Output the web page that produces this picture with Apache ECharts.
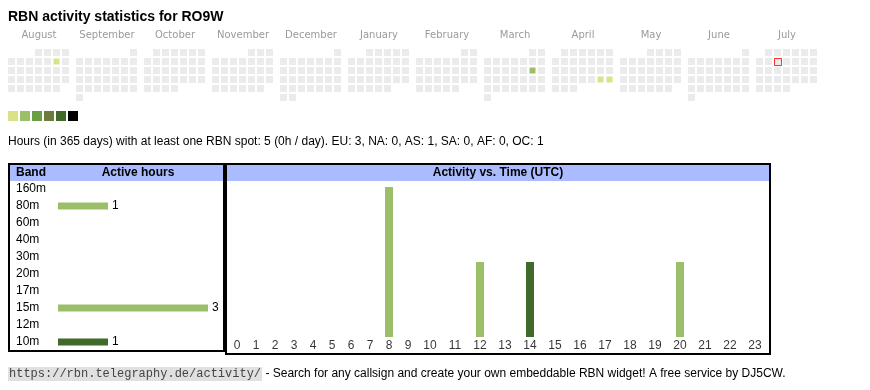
<!DOCTYPE html>
<html><head><meta charset="utf-8">
<script src="https://cdn.jsdelivr.net/npm/echarts@6/dist/echarts.min.js"></script>
<style>html,body{margin:0;padding:0;background:#fff}#c{width:870px;height:390px}</style>
</head><body><div id="c"></div>
<script>
// ---------- data ----------
const pageTitle = 'RBN activity statistics for RO9W';
const monthNames = ['August','September','October','November','December','January','February','March','April','May','June','July'];
const monthRanges = ['2024-08','2024-09','2024-10','2024-11','2024-12','2025-01','2025-02','2025-03','2025-04','2025-05','2025-06','2025-07'];
const activeDays = ['2024-08-10','2025-03-15','2025-04-26','2025-04-27'];
const activeDayHours = [1,2,1,1];
const todayDate = '2025-07-09';
const levelValues = [1,2,3,4,5,6];
const summaryText = 'Hours (in 365 days) with at least one RBN spot: 5 (0h / day). EU: 3, NA: 0, AS: 1, SA: 0, AF: 0, OC: 1';
const bands = ['160m','80m','60m','40m','30m','20m','17m','15m','12m','10m'];
const bandHours = [0,1,0,0,0,0,0,3,0,1];
const hourLabels = ['0','1','2','3','4','5','6','7','8','9','10','11','12','13','14','15','16','17','18','19','20','21','22','23'];
const hourCounts = [0,0,0,0,0,0,0,0,2,0,0,0,1,0,1,0,0,0,0,0,1,0,0,0];
const footerLink = 'https://rbn.telegraphy.de/activity/';
const footerText = ' - Search for any callsign and create your own embeddable RBN widget! A free service by DJ5CW.';

// ---------- styles ----------
const levelColors = ['#d9e288','#9bbf68','#6a9f45','#6a7b3c','#3f6a29','#000000'];
const lightBar = '#9bbf68', darkBar = '#3f6a29';
const darkBands = {'10m': true};
const darkHours = {'14': true};
const headerBg = '#aabbff';
const sans = '"Liberation Sans", Arial, sans-serif';

// hour column layout: table cells sized by label width
const hourCellW = hourLabels.map(l => 13 + 6 * l.length);
const hourCenter = [];
let acc = 0;
hourCellW.forEach(w => { hourCenter.push(acc + w / 2); acc += w; });
const hourTotal = acc;

const calendars = monthRanges.map((r, i) => ({
  orient: 'vertical', range: r, left: 7 + 68 * i, top: 48, cellSize: [9, 9],
  splitLine: {show: false}, dayLabel: {show: false, firstDay: 1}, monthLabel: {show: false}, yearLabel: {show: false},
  itemStyle: {color: '#ebebeb', borderColor: '#ffffff', borderWidth: 2}
}));

const heatSeries = monthRanges.map((r, i) => ({
  type: 'heatmap', coordinateSystem: 'calendar', calendarIndex: i,
  data: activeDays.map((d, k) => [d, activeDayHours[k]]).filter(p => p[0].startsWith(r)),
  itemStyle: {borderColor: '#ffffff', borderWidth: 1}
}));

const todayIdx = monthRanges.findIndex(r => todayDate.startsWith(r));

const monthTitles = monthNames.map((m, i) => ({
  text: m, left: 39 + 68 * i, top: 30, textAlign: 'center', padding: 0,
  textStyle: {fontFamily: 'DejaVu Sans', fontSize: 10, fontWeight: 'normal', color: '#9a9a9a'}
}));

const chart = echarts.init(document.getElementById('c'), null, {renderer: 'canvas'});
chart.setOption({
  animation: false,
  title: [
    {text: pageTitle, left: 8, top: 10, padding: 0, textStyle: {fontFamily: sans, fontSize: 14, fontWeight: 'bold', color: '#000'}},
    ...monthTitles,
    {text: summaryText, left: 8, top: 136, padding: 0, textStyle: {fontFamily: sans, fontSize: 12, fontWeight: 'normal', color: '#000'}},
    {text: '{a|' + footerLink + '}{b|' + footerText + '}', left: 8, top: 367, padding: 0,
      textStyle: {fontWeight: 'normal', rich: {
        a: {fontFamily: '"Liberation Mono", monospace', fontSize: 12, fontWeight: 'normal', color: '#444', backgroundColor: '#e0e0e0', padding: [1, 1, 1, 1]},
        b: {fontFamily: sans, fontSize: 12, fontWeight: 'normal', color: '#000'}
      }}}
  ],
  calendar: calendars,
  visualMap: {
    type: 'piecewise', seriesIndex: heatSeries.map((s, i) => i),
    pieces: levelValues.map((v, i) => ({value: v, color: levelColors[i]})),
    orient: 'horizontal', left: 8, top: 111, itemWidth: 10, itemHeight: 10, itemGap: 2,
    itemSymbol: 'rect', showLabel: false, padding: 0, selectedMode: false
  },
  grid: [
    {left: 58, top: 180.5, width: 150, height: 170},
    {left: 227.5, top: 187, width: hourTotal, height: 150}
  ],
  xAxis: [
    {gridIndex: 0, type: 'value', min: 0, max: 3, show: false},
    {gridIndex: 1, type: 'value', min: 0, max: hourTotal, show: false}
  ],
  yAxis: [
    {gridIndex: 0, type: 'category', data: bands, inverse: true,
      axisLine: {show: false}, axisTick: {show: false}, splitLine: {show: false},
      axisLabel: {align: 'left', margin: 42, fontFamily: sans, fontSize: 12, color: '#000'}},
    {gridIndex: 1, type: 'value', min: 0, max: 2, show: false}
  ],
  series: [
    ...heatSeries,
    {type: 'scatter', coordinateSystem: 'calendar', calendarIndex: todayIdx, data: [[todayDate, 0]],
      symbol: 'rect', symbolSize: 7, symbolOffset: [0.5, 0.5], silent: true,
      itemStyle: {color: '#ebebeb', borderColor: '#ff0000', borderWidth: 1}},
    {type: 'bar', xAxisIndex: 0, yAxisIndex: 0, barWidth: 7,
      data: bandHours.map((v, i) => ({value: v, itemStyle: {color: darkBands[bands[i]] ? darkBar : lightBar}})),
      label: {show: true, position: 'right', distance: 4, fontFamily: sans, fontSize: 12, color: '#000',
        formatter: p => p.value > 0 ? String(p.value) : ''}},
    {type: 'bar', xAxisIndex: 1, yAxisIndex: 1, barWidth: 8,
      data: hourCounts.map((v, h) => ({value: [hourCenter[h], v], itemStyle: {color: darkHours[hourLabels[h]] ? darkBar : lightBar}}))},
    {type: 'scatter', xAxisIndex: 1, yAxisIndex: 1, symbolSize: 1, silent: true,
      itemStyle: {color: 'rgba(0,0,0,0)'},
      data: hourLabels.map((l, h) => [hourCenter[h], 0]),
      label: {show: true, position: 'bottom', distance: 2, fontFamily: sans, fontSize: 12, color: '#000',
        formatter: p => hourLabels[p.dataIndex]}}
  ],
  graphic: [
    {type: 'rect', shape: {x: 10, y: 165, width: 213, height: 16}, style: {fill: headerBg}, z: 0, silent: true},
    {type: 'rect', shape: {x: 227, y: 165, width: 542, height: 16}, style: {fill: headerBg}, z: 0, silent: true},
    {type: 'rect', shape: {x: 9, y: 164, width: 215, height: 187}, style: {fill: null, stroke: '#000', lineWidth: 2}, z: 10, silent: true},
    {type: 'rect', shape: {x: 226, y: 164, width: 544, height: 190}, style: {fill: null, stroke: '#000', lineWidth: 2}, z: 10, silent: true},
    {type: 'text', x: 16, y: 173, style: {text: 'Band', font: 'bold 12px ' + sans, fill: '#000', textVerticalAlign: 'middle'}, z: 11, silent: true},
    {type: 'text', x: 138, y: 173, style: {text: 'Active hours', font: 'bold 12px ' + sans, fill: '#000', textAlign: 'center', textVerticalAlign: 'middle'}, z: 11, silent: true},
    {type: 'text', x: 498, y: 173, style: {text: 'Activity vs. Time (UTC)', font: 'bold 12px ' + sans, fill: '#000', textAlign: 'center', textVerticalAlign: 'middle'}, z: 11, silent: true}
  ]
});
</script>
</body></html>
